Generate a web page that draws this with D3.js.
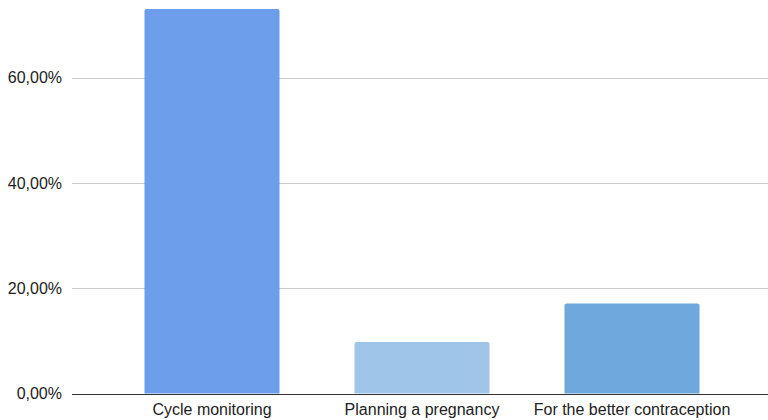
<!DOCTYPE html>
<html>
<head>
<meta charset="utf-8">
<script src="https://cdn.jsdelivr.net/npm/d3@7"></script>
<style>
  html, body { margin: 0; padding: 0; background: #fff; }
  svg { display: block; font-family: "Liberation Sans", Arial, sans-serif; }
</style>
</head>
<body>
<svg id="chart" width="768" height="420"></svg>
<script>
// Reasons for using the app, share of respondents (%)
const categories = ["Cycle monitoring", "Planning a pregnancy", "For the better contraception"];
const values = [73.1, 9.8, 17.1];
const barColors = ["#6d9eeb", "#9fc5e8", "#6fa8dc"];
const yTicks = [0, 20, 40, 60];

const svg = d3.select("#chart");
const gridLeft = 72, gridRight = 768;
const plotTop = 9, plotBottom = 393.5;

const y = d3.scaleLinear()
  .domain([0, 73.1])
  .range([plotBottom, plotTop]);

const x = d3.scaleBand()
  .domain(categories)
  .range([107, 737])
  .paddingInner(0.357)
  .paddingOuter(0.1785);

const fmt = v => d3.format(".2f")(v).replace(".", ",") + "%";

// gridlines
svg.append("g")
  .selectAll("line")
  .data(yTicks.filter(t => t > 0))
  .join("line")
  .attr("x1", gridLeft).attr("x2", gridRight)
  .attr("y1", d => Math.round(y(d)) + 0.5)
  .attr("y2", d => Math.round(y(d)) + 0.5)
  .attr("stroke", "#cccccc")
  .attr("stroke-width", 1);

// y tick labels
svg.append("g")
  .selectAll("text")
  .data(yTicks)
  .join("text")
  .attr("x", 62)
  .attr("y", d => y(d) + 5.5)
  .attr("text-anchor", "end")
  .attr("font-size", 16)
  .attr("fill", "#222")
  .text(fmt);

// bars with lightly rounded tops
svg.append("g")
  .selectAll("path")
  .data(values)
  .join("path")
  .attr("fill", (d, i) => barColors[i])
  .attr("d", (d, i) => {
    const x0 = x(categories[i]), w = x.bandwidth();
    const y0 = y(d), yb = y(0), r = 2;
    return `M${x0},${yb}V${y0 + r}Q${x0},${y0} ${x0 + r},${y0}H${x0 + w - r}Q${x0 + w},${y0} ${x0 + w},${y0 + r}V${yb}Z`;
  });

// baseline
svg.append("line")
  .attr("x1", gridLeft).attr("x2", gridRight)
  .attr("y1", Math.round(y(0)) + 0.5).attr("y2", Math.round(y(0)) + 0.5)
  .attr("stroke", "#333333")
  .attr("stroke-width", 1);

// category labels
svg.append("g")
  .selectAll("text")
  .data(categories)
  .join("text")
  .attr("x", d => x(d) + x.bandwidth() / 2)
  .attr("y", 414.5)
  .attr("text-anchor", "middle")
  .attr("font-size", 16)
  .attr("fill", "#222")
  .text(d => d);
</script>
</body>
</html>
